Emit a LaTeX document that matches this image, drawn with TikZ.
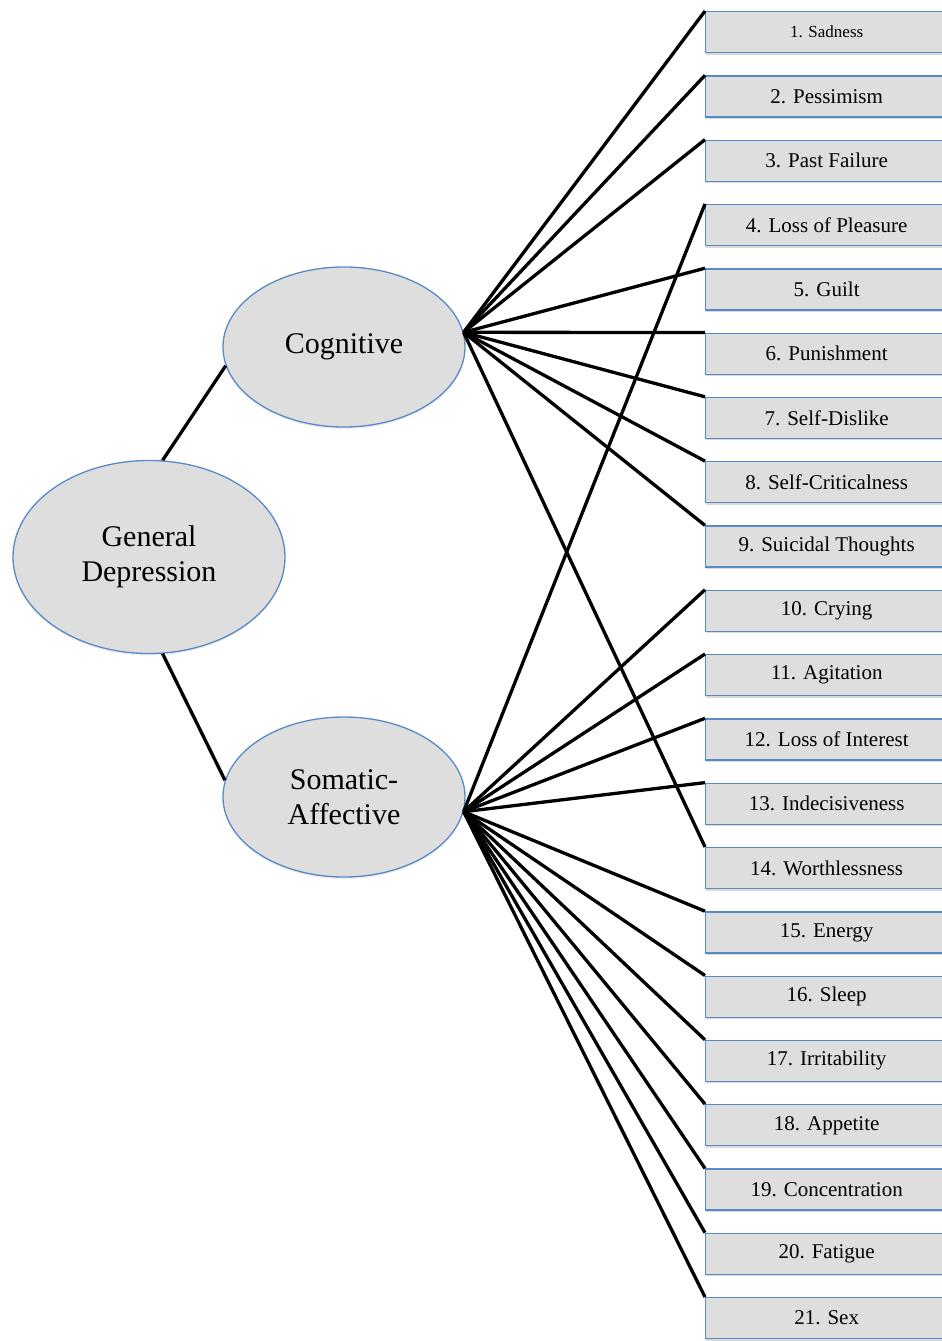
\documentclass[tikz,border=0pt]{standalone}
\usepackage{fontspec}
\setmainfont{Liberation Serif}
\usetikzlibrary{shapes.geometric,shadows}
\definecolor{edgeblue}{RGB}{88,138,200}
\definecolor{boxgray}{RGB}{222,222,222}
\tikzset{
  factor/.style={ellipse, draw=edgeblue, line width=1.3pt, fill=boxgray,
    inner sep=0pt, align=center, font=\fontsize{30}{35}\selectfont,
    drop shadow={shadow xshift=0pt, shadow yshift=-2pt, opacity=0.15}},
  item/.style={rectangle, draw=edgeblue, line width=1.3pt, fill=boxgray,
    minimum width=252pt, minimum height=41pt, inner sep=0pt, anchor=north west,
    font=\fontsize{21}{25}\selectfont,
    drop shadow={shadow xshift=0pt, shadow yshift=-2pt, opacity=0.3}},
  link/.style={line width=3.3pt, black}
}
\begin{document}
\begin{tikzpicture}[x=1pt,y=-1pt]
\useasboundingbox (0,0) rectangle (942,1341);
\clip (0,0) rectangle (942,1341);
% latent factors
\node[factor, minimum width=272pt, minimum height=193pt] (GD) at (149,557) {General\\Depression};
\node[factor, minimum width=242pt, minimum height=160pt] (Cog) at (344,347) {Cognitive};
\node[factor, minimum width=242pt, minimum height=160pt] (Som) at (344,797) {Somatic-\\Affective};
% items
\node[item, font=\fontsize{17}{20}\selectfont] (B1) at (705,11) {\hspace*{-10pt}1. Sadness};
\foreach \i/\t in {2/Pessimism,3/Past Failure,4/Loss of Pleasure,5/Guilt,6/Punishment,
  7/Self-Dislike,8/Self-Criticalness,9/Suicidal Thoughts,10/Crying,11/Agitation,
  12/Loss of Interest,13/Indecisiveness,14/Worthlessness,15/Energy,16/Sleep,
  17/Irritability,18/Appetite,19/Concentration,20/Fatigue,21/Sex} {
  \node[item] (B\i) at (705,{11+(\i-1)*64.3}) {\hspace*{-10pt}\i. \t};
}
% loadings
\draw[link] (GD.82) -- (Cog.189);
\draw[link] (GD.-82) -- (Som.172);
\foreach \i in {1,2,3,5,6,7,8,9,14} {
  \draw[link] (Cog.7) -- (B\i.north west);
}
\foreach \i in {4,10,11,12,13,15,16,17,18,19,20,21} {
  \draw[link] (Som.-7) -- (B\i.north west);
}
\end{tikzpicture}
\end{document}
